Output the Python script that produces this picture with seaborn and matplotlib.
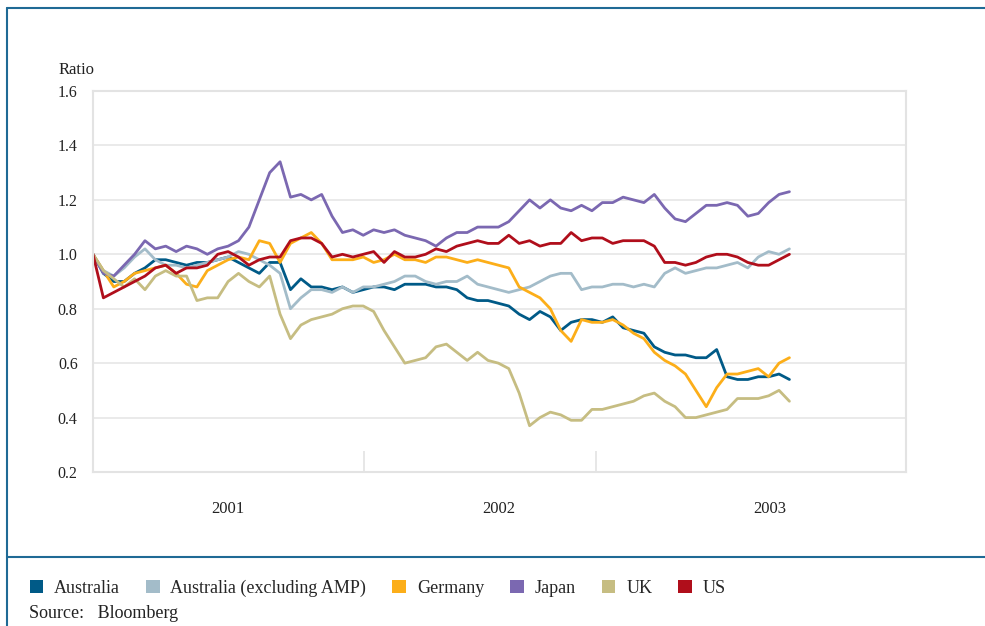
import pandas as pd
import matplotlib.pyplot as plt
from matplotlib.patches import Patch
from matplotlib.lines import Line2D
import seaborn as sns

dates = pd.date_range("2001-01-01", periods=68, freq="14D")

australia = [1.00, 0.93, 0.90, 0.90, 0.93, 0.95, 0.98, 0.98, 0.97, 0.96,
             0.97, 0.97, 0.98, 0.99, 0.97, 0.95, 0.93, 0.97, 0.97, 0.87,
             0.91, 0.88, 0.88, 0.87, 0.88, 0.86, 0.87, 0.88, 0.88, 0.87,
             0.89, 0.89, 0.89, 0.88, 0.88, 0.87, 0.84, 0.83, 0.83, 0.82,
             0.81, 0.78, 0.76, 0.79, 0.77, 0.72, 0.75, 0.76, 0.76, 0.75,
             0.77, 0.73, 0.72, 0.71, 0.66, 0.64, 0.63, 0.63, 0.62, 0.62,
             0.65, 0.55, 0.54, 0.54, 0.55, 0.55, 0.56, 0.54]
australia_ex_amp = [1.00, 0.94, 0.92, 0.95, 0.99, 1.02, 0.98, 0.96, 0.96, 0.95,
                    0.96, 0.97, 0.98, 0.99, 1.01, 1.00, 0.98, 0.96, 0.93, 0.80,
                    0.84, 0.87, 0.87, 0.86, 0.88, 0.86, 0.88, 0.88, 0.89, 0.90,
                    0.92, 0.92, 0.90, 0.89, 0.90, 0.90, 0.92, 0.89, 0.88, 0.87,
                    0.86, 0.87, 0.88, 0.90, 0.92, 0.93, 0.93, 0.87, 0.88, 0.88,
                    0.89, 0.89, 0.88, 0.89, 0.88, 0.93, 0.95, 0.93, 0.94, 0.95,
                    0.95, 0.96, 0.97, 0.95, 0.99, 1.01, 1.00, 1.02]
germany = [1.00, 0.94, 0.88, 0.90, 0.93, 0.94, 0.95, 0.96, 0.93, 0.89,
           0.88, 0.94, 0.96, 0.98, 0.99, 0.98, 1.05, 1.04, 0.97, 1.04,
           1.06, 1.08, 1.04, 0.98, 0.98, 0.98, 0.99, 0.97, 0.98, 1.00,
           0.98, 0.98, 0.97, 0.99, 0.99, 0.98, 0.97, 0.98, 0.97, 0.96,
           0.95, 0.88, 0.86, 0.84, 0.80, 0.72, 0.68, 0.76, 0.75, 0.75,
           0.76, 0.74, 0.71, 0.69, 0.64, 0.61, 0.59, 0.56, 0.50, 0.44,
           0.51, 0.56, 0.56, 0.57, 0.58, 0.55, 0.60, 0.62]
japan = [1.00, 0.93, 0.92, 0.96, 1.00, 1.05, 1.02, 1.03, 1.01, 1.03,
         1.02, 1.00, 1.02, 1.03, 1.05, 1.10, 1.20, 1.30, 1.34, 1.21,
         1.22, 1.20, 1.22, 1.14, 1.08, 1.09, 1.07, 1.09, 1.08, 1.09,
         1.07, 1.06, 1.05, 1.03, 1.06, 1.08, 1.08, 1.10, 1.10, 1.10,
         1.12, 1.16, 1.20, 1.17, 1.20, 1.17, 1.16, 1.18, 1.16, 1.19,
         1.19, 1.21, 1.20, 1.19, 1.22, 1.17, 1.13, 1.12, 1.15, 1.18,
         1.18, 1.19, 1.18, 1.14, 1.15, 1.19, 1.22, 1.23]
uk = [1.00, 0.94, 0.91, 0.88, 0.91, 0.87, 0.92, 0.94, 0.92, 0.92,
      0.83, 0.84, 0.84, 0.90, 0.93, 0.90, 0.88, 0.92, 0.78, 0.69,
      0.74, 0.76, 0.77, 0.78, 0.80, 0.81, 0.81, 0.79, 0.72, 0.66,
      0.60, 0.61, 0.62, 0.66, 0.67, 0.64, 0.61, 0.64, 0.61, 0.60,
      0.58, 0.49, 0.37, 0.40, 0.42, 0.41, 0.39, 0.39, 0.43, 0.43,
      0.44, 0.45, 0.46, 0.48, 0.49, 0.46, 0.44, 0.40, 0.40, 0.41,
      0.42, 0.43, 0.47, 0.47, 0.47, 0.48, 0.50, 0.46]
us = [1.00, 0.84, 0.86, 0.88, 0.90, 0.92, 0.95, 0.96, 0.93, 0.95,
      0.95, 0.96, 1.00, 1.01, 0.99, 0.96, 0.98, 0.99, 0.99, 1.05,
      1.06, 1.06, 1.04, 0.99, 1.00, 0.99, 1.00, 1.01, 0.97, 1.01,
      0.99, 0.99, 1.00, 1.02, 1.01, 1.03, 1.04, 1.05, 1.04, 1.04,
      1.07, 1.04, 1.05, 1.03, 1.04, 1.04, 1.08, 1.05, 1.06, 1.06,
      1.04, 1.05, 1.05, 1.05, 1.03, 0.97, 0.97, 0.96, 0.97, 0.99,
      1.00, 1.00, 0.99, 0.97, 0.96, 0.96, 0.98, 1.00]

names = ["Australia", "Australia (excluding AMP)", "Germany", "Japan", "UK", "US"]
colors = ["#005a87", "#a3bcc9", "#fcae19", "#7b68b1", "#c6bd82", "#b00e1b"]
year_labels = ["2001", "2002", "2003"]

series = [australia, australia_ex_amp, germany, japan, uk, us]
df = pd.concat([pd.DataFrame({"date": dates, "ratio": s, "country": n})
                for n, s in zip(names, series)])

sns.set_style("white")
plt.rcParams["font.family"] = ["Liberation Serif", "DejaVu Serif"]

fig = plt.figure(figsize=(9.85, 6.26), dpi=100)
ax = fig.add_axes([0.0944, 0.246, 0.8254, 0.6086])

sns.lineplot(data=df, x="date", y="ratio", hue="country", hue_order=names,
             palette=dict(zip(names, colors)), linewidth=2.0, legend=False, ax=ax)

ax.set_xlim(pd.Timestamp("2001-01-01"), pd.Timestamp("2004-01-01"))
ax.set_ylim(0.2, 1.6)
ax.set_yticks([0.2, 0.4, 0.6, 0.8, 1.0, 1.2, 1.4, 1.6])
ax.set_yticklabels(["0.2", "0.4", "0.6", "0.8", "1.0", "1.2", "1.4", "1.6"])
ax.grid(axis="y", color="#e6e6e6", linewidth=1.2)
ax.set_axisbelow(True)
for sp in ax.spines.values():
    sp.set_color("#e3e3e3")
    sp.set_linewidth(1.5)

# short separators on the date axis, year names in between
ax.set_xticks([pd.Timestamp("2002-01-01"), pd.Timestamp("2002-11-10")])
ax.set_xticklabels(["", ""])
ax.tick_params(axis="x", which="major", bottom=True, direction="in", length=15,
               color="#e3e3e3", width=1.2)
ax.set_xticks([pd.Timestamp(f"{y}-07-02") for y in year_labels], minor=True)
ax.set_xticklabels(year_labels, minor=True)
ax.tick_params(axis="x", which="minor", bottom=True, length=0, pad=21, labelsize=12,
               colors="#222222")
ax.tick_params(axis="y", length=0, pad=11, labelsize=11.5, colors="#222222")
ax.set_xlabel("")
ax.set_ylabel("")
ax.text(-0.043, 1.035, "Ratio", transform=ax.transAxes, fontsize=12, color="#222222",
        ha="left", va="bottom")

# page frame
frame = "#1f6a95"
fig.add_artist(Line2D([0.007, 1.0], [0.987, 0.987], color=frame, lw=1.5))
fig.add_artist(Line2D([0.007, 0.007], [0.0, 0.987], color=frame, lw=1.5))
fig.add_artist(Line2D([0.007, 1.0], [0.110, 0.110], color=frame, lw=1.5))

handles = [Patch(facecolor=c, edgecolor="none") for c in colors]
fig.legend(handles, names, loc="lower left", bbox_to_anchor=(0.030, 0.047), ncol=6,
           frameon=False, handlelength=0.75, handleheight=0.75, handletextpad=0.6,
           columnspacing=1.45, fontsize=13, borderpad=0, borderaxespad=0)
fig.text(0.029, 0.012, "Source:   Bloomberg", fontsize=13, color="#222222")

fig.savefig("out.png", dpi=100)
